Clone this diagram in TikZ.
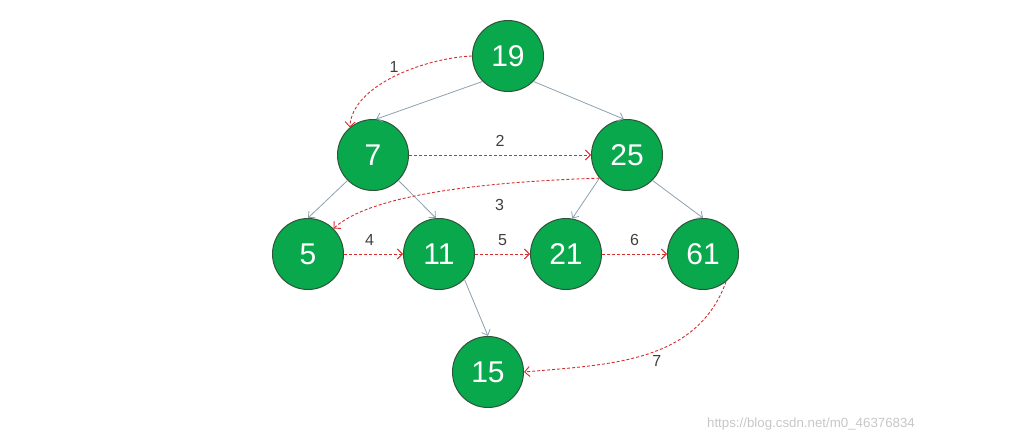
\documentclass[tikz,border=0pt]{standalone}
\usepackage{fontspec}
\setmainfont{Liberation Sans}
\usetikzlibrary{arrows.meta}
\definecolor{nodegreen}{RGB}{10,168,76}
\definecolor{nodeedge}{RGB}{46,84,58}
\definecolor{treeline}{RGB}{140,160,175}
\definecolor{visitred}{RGB}{215,45,45}
\tikzset{
  keynode/.style={circle, fill=nodegreen, draw=nodeedge, line width=1pt, minimum size=71pt, inner sep=0pt, text=white, font=\fontsize{30}{30}\selectfont},
  child/.style={draw=treeline, line width=0.8pt, -{Straight Barb[length=5pt,width=9pt]}},
  visit/.style={draw=visitred, dashed, dash pattern=on 3pt off 2pt, line width=0.9pt, -{Straight Barb[length=5pt,width=10pt]}},
  lbl/.style={text=black!75, font=\fontsize{16}{16}\selectfont}
}
\begin{document}
\begin{tikzpicture}[x=1pt, y=-1pt]
    \useasboundingbox (0,0) rectangle (1021,442);
    % keys
    \node[keynode] (n19) at (508,56) {19};
    \node[keynode] (n7) at (373,155) {7};
    \node[keynode] (n25) at (627,155) {25};
    \node[keynode] (n5) at (308,254) {5};
    \node[keynode] (n11) at (439,254) {11};
    \node[keynode] (n21) at (566,254) {21};
    \node[keynode] (n61) at (703,254) {61};
    \node[keynode] (n15) at (488,372) {15};
    % tree links
    \draw[child] (n19.225) -- (n7.85);
    \draw[child] (n19.-45) -- (n25.95);
    \draw[child] (n7.225) -- (n5.north);
    \draw[child] (n7.-45) -- (n11.95);
    \draw[child] (n25.220) -- (n21.80);
    \draw[child] (n25.-45) -- (n61.north);
    \draw[child] (n11.-45) -- (n15.north);
    % level order
    \draw[visit] (n19.west) .. controls (425,58) and (352,85) .. node[lbl, pos=0.5, above=0pt] {1} (n7.130);
    \draw[visit] (n7) -- node[lbl, above=5pt] {2} (n25);
    \draw[visit] (n25.220) .. controls (480,182) and (370,195) .. node[lbl, pos=0.29, below=11pt] {3} (n5.45);
    \draw[visit] (n5) -- node[lbl, above=5pt, xshift=-4pt] {4} (n11);
    \draw[visit] (n11) -- node[lbl, above=5pt] {5} (n21);
    \draw[visit] (n21) -- node[lbl, above=5pt] {6} (n61);
    \draw[visit] (n61.-50) to[out=-110, in=5] node[lbl, pos=0.45, below=1pt] {7} (n15.east);
    % watermark
    \node[text=black!22, font=\fontsize{13.3}{13.3}\selectfont] (mark) at (811,424) {https://blog.csdn.net/m0\_46376834};
\end{tikzpicture}
\end{document}
